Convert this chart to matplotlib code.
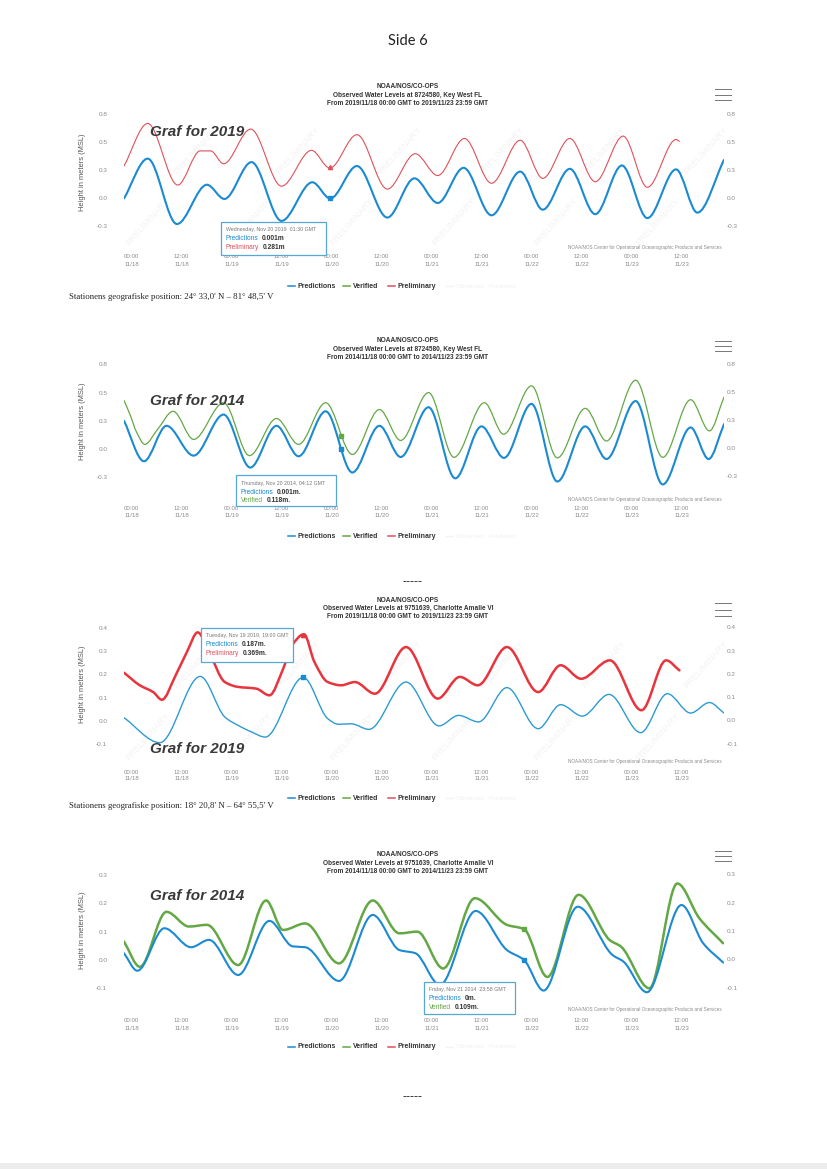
import matplotlib
matplotlib.use("Agg")
import matplotlib.pyplot as plt
from matplotlib.path import Path
from matplotlib.patches import PathPatch, Rectangle
from matplotlib.transforms import blended_transform_factory, offset_copy
import numpy as np

# ---------------- data (hours since 11/18 00:00 GMT, metres MSL) ----------------
x_tick_hours = [0, 12, 24, 36, 48, 60, 72, 84, 96, 108, 120, 132]
x_tick_labels = ["00:00\n11/18", "12:00\n11/18", "00:00\n11/19", "12:00\n11/19",
                 "00:00\n11/20", "12:00\n11/20", "00:00\n11/21", "12:00\n11/21",
                 "00:00\n11/22", "12:00\n11/22", "00:00\n11/23", "12:00\n11/23"]

kw_y_ticks = [0.75, 0.5, 0.25, 0.0, -0.25]
kw_y_labels = ["0.8", "0.5", "0.3", "0.0", "-0.3"]
ca19_y_ticks = [0.4, 0.3, 0.2, 0.1, 0.0, -0.1]
ca19_y_labels = ["0.4", "0.3", "0.2", "0.1", "0.0", "-0.1"]
ca14_y_ticks = [0.3, 0.2, 0.1, 0.0, -0.1]
ca14_y_labels = ["0.3", "0.2", "0.1", "0.0", "-0.1"]

# Key West 2019
kw19_pred_t = [0, 5.7, 12.7, 19.9, 24.1, 30.6, 37.8, 45.2, 49.5, 55.9, 63.2, 69.7, 75.3,
               81.5, 88.2, 95.1, 100.5, 107.0, 113.1, 119.5, 125.6, 132.5, 137.6, 144]
kw19_pred_v = [0.0, 0.356, -0.228, 0.123, -0.004, 0.325, -0.20, 0.145, 0.0, 0.29, -0.17,
               0.18, -0.04, 0.274, -0.15, 0.24, -0.10, 0.265, -0.14, 0.295, -0.175, 0.26,
               -0.126, 0.345]
kw19_prel_t = [0, 5.7, 12.9, 18.3, 20.8, 23.9, 30.4, 37.8, 45.0, 49.4, 55.9, 63.2, 69.9,
               75.3, 81.7, 88.2, 95.1, 100.5, 107.0, 113.1, 119.8, 125.6, 132.5, 133.3]
kw19_prel_v = [0.29, 0.67, 0.12, 0.425, 0.425, 0.31, 0.62, 0.11, 0.43, 0.272, 0.57, 0.084,
               0.40, 0.205, 0.536, 0.136, 0.52, 0.18, 0.536, 0.15, 0.557, 0.10, 0.527, 0.51]

# Key West 2014
kw14_pred_t = [0, 4.8, 10.2, 16.7, 23.9, 30.3, 36.6, 41.9, 48.4, 54.8, 61.3, 66.4, 73.1,
               79.5, 85.8, 91.2, 97.8, 104.0, 110.7, 115.8, 122.8, 129.3, 136.0, 140.3, 144]
kw14_pred_v = [0.25, -0.11, 0.205, -0.06, 0.305, -0.166, 0.205, -0.066, 0.334, -0.21,
               0.205, -0.072, 0.37, -0.262, 0.20, -0.08, 0.40, -0.29, 0.20, -0.09, 0.425,
               -0.316, 0.19, -0.09, 0.22]
kw14_ver_t = [0, 1.5, 3.0, 5.0, 8.0, 11.8, 16.7, 23.9, 30.1, 36.6, 41.9, 48.4, 54.8, 61.3,
              66.4, 73.1, 79.2, 86.5, 91.1, 97.8, 104.0, 110.7, 115.8, 122.8, 129.3, 136.0,
              140.5, 144]
kw14_ver_v = [0.43, 0.30, 0.15, 0.04, 0.17, 0.334, 0.084, 0.41, -0.06, 0.27, 0.04, 0.41,
              -0.05, 0.35, 0.075, 0.50, -0.075, 0.41, 0.13, 0.56, -0.08, 0.36, 0.07, 0.61,
              -0.075, 0.437, 0.16, 0.46]

# Charlotte Amalie 2019
ca19_pred_t = [0, 8.6, 18.3, 24.2, 27.4, 30.6, 33.9, 43.0, 48.9, 51.5, 54.5, 58.8, 67.7,
               75.6, 80.3, 85.1, 91.9, 99.4, 104.8, 110.0, 116.4, 124.0, 130.4, 136.0,
               140.5, 144]
ca19_pred_v = [0.014, -0.093, 0.191, 0.017, -0.019, -0.047, -0.069, 0.187, 0.01, -0.014,
               -0.012, -0.036, 0.167, -0.021, 0.024, -0.004, 0.143, -0.033, 0.07, 0.021,
               0.114, -0.05, 0.117, 0.034, 0.079, 0.034]
ca19_prel_t = [0, 3.8, 7.0, 9.1, 12.4, 15.1, 17.7, 20.4, 24.2, 27.4, 31.7, 34.9, 38.2,
               40.3, 43.2, 45.7, 48.9, 52.1, 55.4, 60.2, 67.7, 75.3, 80.6, 84.9, 91.9,
               99.4, 104.8, 109.7, 116.6, 124.2, 130.1, 133.3]
ca19_prel_v = [0.207, 0.153, 0.124, 0.091, 0.196, 0.296, 0.38, 0.296, 0.167, 0.146,
               0.139, 0.11, 0.224, 0.324, 0.372, 0.253, 0.167, 0.153, 0.167, 0.117, 0.317,
               0.096, 0.189, 0.153, 0.317, 0.124, 0.239, 0.181, 0.26, 0.046, 0.26, 0.217]

# Charlotte Amalie 2014
ca14_pred_t = [0, 3.2, 9.7, 16.1, 20.4, 27.4, 34.9, 40.5, 43.5, 51.6, 59.7, 66.1, 69.9,
               75.8, 84.4, 91.9, 96.0, 100.7, 108.9, 117.2, 119.9, 125.5, 133.8, 139.0, 143.8]
ca14_pred_v = [0.024, -0.038, 0.112, 0.045, 0.071, -0.053, 0.138, 0.048, 0.045, -0.074,
               0.159, 0.035, 0.024, -0.088, 0.173, 0.035, 0.0, -0.108, 0.188, 0.018,
               -0.006, -0.114, 0.194, 0.059, -0.009]
ca14_ver_t = [0, 3.8, 10.2, 15.6, 19.9, 27.4, 34.1, 38.2, 43.5, 51.6, 59.7, 66.1, 70.4,
              76.6, 84.2, 91.9, 96.0, 101.6, 109.1, 116.6, 119.3, 126.1, 132.8, 138.1, 143.8]
ca14_ver_v = [0.065, -0.024, 0.17, 0.118, 0.124, -0.018, 0.21, 0.106, 0.129, -0.012,
              0.21, 0.094, 0.10, -0.03, 0.218, 0.124, 0.109, -0.06, 0.23, 0.07, 0.047,
              -0.10, 0.27, 0.147, 0.059]

# tooltip points (hour, predictions, observed)
kw19_tip = [49.5, 0.001, 0.281]
kw14_tip = [52.2, 0.001, 0.118]
ca19_tip = [43.0, 0.187, 0.369]
ca14_tip = [96.0, 0.0, 0.109]

# ---------------- styling ----------------
W, H = 828, 1169
fig = plt.figure(figsize=(8.28, 11.69), dpi=100)
fig.patch.set_facecolor("white")

NARROW = ["Liberation Sans Narrow", "Liberation Sans", "DejaVu Sans"]
SANS = ["Liberation Sans", "DejaVu Sans"]
SERIF = ["Liberation Serif", "DejaVu Serif"]
BLUE = "#1a8ad2"
BLUE2 = "#2b9bd0"
GREEN = "#63a844"
RED = "#e0505a"
RED2 = "#e8343c"
TICKC = "#8c8c8c"
CREDIT = "NOAA/NOS Center for Operational Oceanographic Products and Services"

# overlay in pixel coordinates
ov = fig.add_axes([0, 0, 1, 1], zorder=10)
ov.set_xlim(0, W)
ov.set_ylim(H, 0)
ov.axis("off")
ov.patch.set_alpha(0)


def smooth(ax, t, v, color, lw, z=3):
    t = np.asarray(t, float)
    v = np.asarray(v, float)
    h = np.diff(t)
    d = np.diff(v) / h
    m = np.zeros_like(v)
    m[0], m[-1] = d[0], d[-1]
    for k in range(1, len(v) - 1):
        if d[k - 1] * d[k] > 0:
            m[k] = 2.0 / (1.0 / d[k - 1] + 1.0 / d[k])
    verts = [(t[0], v[0])]
    codes = [Path.MOVETO]
    for k in range(len(h)):
        verts += [(t[k] + h[k] / 3, v[k] + m[k] * h[k] / 3),
                  (t[k + 1] - h[k] / 3, v[k + 1] - m[k + 1] * h[k] / 3),
                  (t[k + 1], v[k + 1])]
        codes += [Path.CURVE4] * 3
    ax.add_patch(PathPatch(Path(verts, codes), fill=False, edgecolor=color, lw=lw,
                           capstyle="round", joinstyle="round", zorder=z))


def chart(top, bot, v1, p1, v2, p2, yticks, ylabels, xlab_y, ylab_y, watermark):
    left, right = 124, 724
    ax = fig.add_axes([left / W, 1 - bot / H, (right - left) / W, (bot - top) / H])
    s = (p2 - p1) / (v1 - v2)
    ax.set_ylim(v2 - (bot - p2) / s, v1 + (p1 - top) / s)
    ax.set_xlim(0, 144)
    for sp in ax.spines.values():
        sp.set_visible(False)
    ax.set_yticks(yticks)
    ax.set_yticklabels(ylabels)
    ax.tick_params(axis="y", length=0, labelsize=4.6, labelcolor=TICKC, pad=12)
    for lab in ax.get_yticklabels():
        lab.set_family(SANS)
    # right-hand duplicate labels
    tr = offset_copy(blended_transform_factory(ax.transAxes, ax.transData),
                     fig=fig, x=3, y=0, units="dots")
    for val, lab in zip(yticks, ylabels):
        ax.text(1.0, val, lab, transform=tr, ha="left", va="center", fontsize=4.6,
                color=TICKC, family=SANS, clip_on=False)
    ax.set_xticks(x_tick_hours)
    ax.set_xticklabels(x_tick_labels, ha="left", multialignment="center")
    ax.tick_params(axis="x", length=0, labelsize=4.4, labelcolor=TICKC,
                   pad=(xlab_y - 3.5 - bot) * 0.72)
    for lab in ax.get_xticklabels():
        lab.set_family(SANS)
        lab.set_linespacing(1.5)
    ax.patch.set_alpha(0)
    ov.text(83, ylab_y, "Height in meters (MSL)", rotation=90, ha="center", va="center",
            fontsize=5.4, color="#555555", family=SANS)
    if watermark:
        for xf in np.arange(0.04, 1.0, 0.17):
            for yf, dx in ((0.2, 0.0), (0.7, 0.08)):
                ax.text(xf + dx, yf, "PRELIMINARY", rotation=48,
                        transform=ax.transAxes, fontsize=6.5, color="#f3f3f3",
                        ha="center", va="center", zorder=0, family=SANS)
    return ax


def header(y0, lines, ham):
    for i, txt in enumerate(lines):
        ov.text(408, y0 + i * 8.3, txt, ha="center", va="center", fontsize=4.7,
                fontweight="bold", color="#333333", family=NARROW)
    for yy in ham:
        ov.plot([715, 731], [yy, yy], color="#777777", lw=0.7)


def legend(y):
    items = [(288, "Predictions", BLUE), (343, "Verified", GREEN), (388, "Preliminary", RED)]
    for x, name, c in items:
        ov.plot([x, x + 7], [y, y], color=c, lw=1.1)
        ov.text(x + 10, y, name, ha="left", va="center", fontsize=5.0, color="#333333",
                family=NARROW, fontweight="bold")
    ov.plot([446, 453], [y, y], color="#f2f2f2", lw=1.0)
    ov.text(456, y, "Observed   Predicted", ha="left", va="center", fontsize=4.6,
            color="#f0f0f0", family=NARROW)


def tooltip(box, line1, l2, l3):
    x0, y0, x1, y1 = box
    ov.add_patch(Rectangle((x0, y0), x1 - x0, y1 - y0, facecolor="white",
                           edgecolor="#56a7d6", lw=0.9, zorder=5))
    ov.text(x0 + 5, y0 + 8, line1, fontsize=3.8, color="#777777", va="center",
            family=NARROW, zorder=6)
    for k, (name, val, c) in enumerate((l2, l3)):
        t = ov.text(x0 + 5, y0 + 17 + k * 8.5, name, fontsize=4.8, color=c, va="center",
                    family=NARROW, zorder=6)
        ov.annotate(val, xy=(1, 0.5), xycoords=t, xytext=(2.5, 0),
                    textcoords="offset points", va="center", fontsize=4.8,
                    fontweight="bold", color="#333333", family=SANS, zorder=6)


def graf(y, txt):
    ov.text(150, y, txt, fontsize=11, fontweight="bold", style="italic",
            color="#3a3a3a", va="center", ha="left", family=SANS, zorder=7)


def station(y, txt):
    ov.text(69, y, txt, fontsize=6.3, color="#222222", va="center", ha="left",
            family=SERIF)


# page title
ov.text(408, 41, "Side 6", ha="center", va="center", fontsize=10.5, color="#222222",
        family=["Lato", "Open Sans", "DejaVu Sans"])

# ---- chart 1: Key West 2019 ----
ax1 = chart(108, 250, 0.75, 114.5, -0.25, 226.5, kw_y_ticks, kw_y_labels, 258, 172, True)
smooth(ax1, kw19_prel_t, kw19_prel_v, RED, 0.8)
smooth(ax1, kw19_pred_t, kw19_pred_v, BLUE, 1.5)
ax1.plot(kw19_tip[0], kw19_tip[1], "s", ms=3.3, color=BLUE, zorder=6)
ax1.plot(kw19_tip[0], kw19_tip[2], "^", ms=3.0, color=RED, zorder=6)
header(87, ["NOAA/NOS/CO-OPS", "Observed Water Levels at 8724580, Key West FL",
            "From 2019/11/18 00:00 GMT to 2019/11/23 23:59 GMT"], [89, 94.5, 100])
graf(132, "Graf for 2019")
tooltip((221, 222, 326, 255), "Wednesday, Nov 20 2019  01:30 GMT",
        ("Predictions", "0.001m", BLUE), ("Preliminary", "0.281m", RED))
ov.text(722, 248, CREDIT, ha="right", va="center", fontsize=3.3, color="#8a8a8a",
        family=NARROW)
legend(286)
station(297, "Stationens geografiske position: 24° 33,0' N – 81° 48,5' V")

# ---- chart 2: Key West 2014 ----
ax2 = chart(360, 500, 0.75, 364.5, -0.25, 477, kw_y_ticks, kw_y_labels, 510, 421, False)
smooth(ax2, kw14_ver_t, kw14_ver_v, GREEN, 0.9)
smooth(ax2, kw14_pred_t, kw14_pred_v, BLUE, 1.5)
ax2.plot(kw14_tip[0], kw14_tip[1], "s", ms=3.3, color=BLUE, zorder=6)
ax2.plot(kw14_tip[0], kw14_tip[2], "s", ms=3.3, color=GREEN, zorder=6)
header(341, ["NOAA/NOS/CO-OPS", "Observed Water Levels at 8724580, Key West FL",
             "From 2014/11/18 00:00 GMT to 2014/11/23 23:59 GMT"], [341, 346, 351])
graf(401, "Graf for 2014")
tooltip((236, 475, 336, 506), "Thursday, Nov 20 2014, 04:12 GMT",
        ("Predictions", "0.001m.", BLUE), ("Verified", "0.118m.", GREEN))
ov.text(722, 499, CREDIT, ha="right", va="center", fontsize=3.3, color="#8a8a8a",
        family=NARROW)
legend(536)
ov.text(413, 582, "-----", ha="center", va="center", fontsize=9, color="#222222",
        family=SANS)

# ---- chart 3: Charlotte Amalie 2019 ----
ax3 = chart(622, 765, 0.4, 627.7, -0.1, 744.3, ca19_y_ticks, ca19_y_labels, 773, 684, True)
smooth(ax3, ca19_prel_t, ca19_prel_v, RED2, 1.8)
smooth(ax3, ca19_pred_t, ca19_pred_v, BLUE2, 1.0)
ax3.plot(ca19_tip[0], ca19_tip[1], "s", ms=3.3, color=BLUE, zorder=6)
ax3.plot(ca19_tip[0], ca19_tip[2], "^", ms=3.0, color=RED2, zorder=6)
header(600, ["NOAA/NOS/CO-OPS", "Observed Water Levels at 9751639, Charlotte Amalie VI",
             "From 2019/11/18 00:00 GMT to 2019/11/23 23:59 GMT"], [603, 609.5, 616])
graf(749, "Graf for 2019")
tooltip((201, 628, 293, 662), "Tuesday, Nov 19 2019, 19:00 GMT",
        ("Predictions", "0.187m.", BLUE), ("Preliminary", "0.369m.", RED))
ov.text(722, 762, CREDIT, ha="right", va="center", fontsize=3.3, color="#8a8a8a",
        family=NARROW)
legend(798)
station(806, "Stationens geografiske position: 18° 20,8' N – 64° 55,5' V")

# ---- chart 4: Charlotte Amalie 2014 ----
ax4 = chart(868, 1012, 0.3, 875, -0.1, 988.3, ca14_y_ticks, ca14_y_labels, 1022, 930, False)
smooth(ax4, ca14_ver_t, ca14_ver_v, GREEN, 1.8)
smooth(ax4, ca14_pred_t, ca14_pred_v, BLUE, 1.5)
ax4.plot(ca14_tip[0], ca14_tip[1], "s", ms=3.3, color=BLUE, zorder=6)
ax4.plot(ca14_tip[0], ca14_tip[2], "s", ms=3.0, color=GREEN, zorder=6)
header(855, ["NOAA/NOS/CO-OPS", "Observed Water Levels at 9751639, Charlotte Amalie VI",
             "From 2014/11/18 00:00 GMT to 2014/11/23 23:59 GMT"], [851, 856, 861])
graf(896, "Graf for 2014")
tooltip((424, 982, 515, 1014), "Friday, Nov 21 2014  23:58 GMT",
        ("Predictions", "0m.", BLUE), ("Verified", "0.109m.", GREEN))
ov.text(722, 1010, CREDIT, ha="right", va="center", fontsize=3.3, color="#8a8a8a",
        family=NARROW)
legend(1047)
ov.text(413, 1097, "-----", ha="center", va="center", fontsize=9, color="#222222",
        family=SANS)

# scan edge at the bottom
ov.add_patch(Rectangle((0, 1163), W, 6, facecolor="#ececec", edgecolor="none"))

fig.savefig("out.png", dpi=100, facecolor="white")
